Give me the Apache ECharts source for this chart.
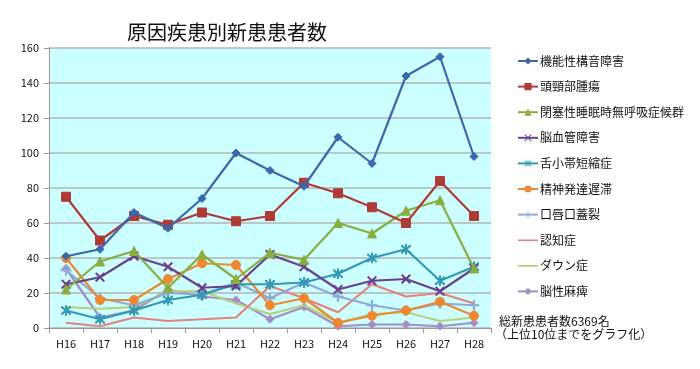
<!DOCTYPE html>
<html><head><meta charset="utf-8">
<script src="https://cdn.jsdelivr.net/npm/echarts@6/dist/echarts.min.js"></script>
<style>html,body{margin:0;padding:0;background:#fff}#c{width:700px;height:369px}</style>
</head><body><div id="c"></div>
<script>
const categories = ['H16','H17','H18','H19','H20','H21','H22','H23','H24','H25','H26','H27','H28'];
const yTicks = [0,20,40,60,80,100,120,140,160];
const names = ['機能性構音障害','頭頸部腫瘍','閉塞性睡眠時無呼吸症候群','脳血管障害','舌小帯短縮症','精神発達遅滞','口唇口蓋裂','認知症','ダウン症','脳性麻痺'];
const s1 = [41,45,66,57,74,100,90,81,109,94,144,155,98];
const s2 = [75,50,64,59,66,61,64,83,77,69,60,84,64];
const s3 = [22,38,44,23,42,28,43,39,60,54,67,73,34];
const s4 = [25,29,41,35,23,24,42,35,22,27,28,21,34];
const s5 = [10,5,10,16,19,25,25,26,31,40,45,27,35];
const s6 = [40,16,16,28,37,36,13,17,3,7,10,15,7];
const s7 = [33,17,13,20,19,26,17,26,18,13,10,14,13];
const s8 = [3,1,6,4,5,6,24,17,9,25,18,20,14];
const s9 = [12,11,12,21,21,14,8,13,3,8,9,4,6];
const s10 = [34,6,10,22,18,16,5,12,1,2,2,1,3];
const seriesData = [s1,s2,s3,s4,s5,s6,s7,s8,s9,s10];
const title = '原因疾患別新患患者数';
const note1 = '総新患患者数6369名';
const note2 = '（上位10位までをグラフ化）';

const colors = ['#3B67AC','#AF3A36','#8AAD3F','#6A3F8E','#3399B2','#EF8830','#8EAAD7','#E5817E','#B7D07D','#A48EC5'];
const X = 'path://M1,0L5,4L9,0L10,1L6,5L10,9L9,10L5,6L1,10L0,9L4,5L0,1Z';
const STAR = 'path://M1,0L5,4L9,0L10,1L6,5L10,9L9,10L5,6L1,10L0,9L4,5L0,1Z M4.5,-1H5.5V11H4.5Z';
const PLUS = 'path://M4.4,0H5.6V4.4H10V5.6H5.6V10H4.4V5.6H0V4.4H4.4Z';
const LINEICON = 'path://M0,0H0.01V0.01H0Z M0,3.8H20V5.4H0Z M19.99,8.99H20V9H19.99Z';
const symbols = ['diamond','rect','triangle',X,STAR,'circle',PLUS,'none','none','diamond'];
const sizes = [8,9,9,9,10,9,10,0,0,8];

const font = '"Noto Sans CJK JP", "Noto Sans", sans-serif';
const chart = echarts.init(document.getElementById('c'));
chart.setOption({
  animation:false,
  textStyle:{fontFamily:font},
  title:{text:title,left:122,top:17,textStyle:{fontFamily:font,fontSize:20,fontWeight:'normal',color:'#111'}},
  grid:{left:49,right:209,top:48,bottom:41,show:true,backgroundColor:'#CCFFFF',borderWidth:0},
  legend:{orient:'vertical',left:512,top:50,itemWidth:20,itemHeight:9,itemGap:13.6,
    textStyle:{fontFamily:font,fontSize:12,color:'#111',padding:[0,0,0,-3]},
    data:names.map((n,i)=>symbols[i]==='none'?{name:n,icon:LINEICON}:{name:n})},
  xAxis:{type:'category',data:categories,boundaryGap:true,
    axisLine:{lineStyle:{color:'#999',width:1}},
    axisTick:{show:true,interval:0,length:5,lineStyle:{color:'#999'}},
    axisLabel:{color:'#111',fontSize:11,margin:10,fontFamily:font}},
  yAxis:{type:'value',min:0,max:160,interval:20,
    axisLine:{show:true,lineStyle:{color:'#999'}},
    axisTick:{show:true,length:5,lineStyle:{color:'#999'}},
    splitLine:{lineStyle:{color:'#B5B5B5',width:1.5}},
    axisLabel:{color:'#111',fontSize:11,margin:10,fontFamily:font,
      formatter:v=>yTicks.includes(v)?String(v):''}},
  graphic:[
    {type:'text',left:499,top:315,style:{text:note1,font:'12px '+font,fill:'#111'}},
    {type:'text',left:495,top:328,style:{text:note2,font:'12px '+font,fill:'#111'}}
  ],
  series:seriesData.map((d,i)=>({
    name:names[i],type:'line',data:d,
    symbol:symbols[i],symbolSize:sizes[i],showSymbol:symbols[i]!=='none',
    z:20-i,
    lineStyle:{color:colors[i],width:2.2},
    itemStyle:{color:colors[i],borderColor:colors[i]},
    emphasis:{disabled:true}
  }))
});
</script></body></html>
